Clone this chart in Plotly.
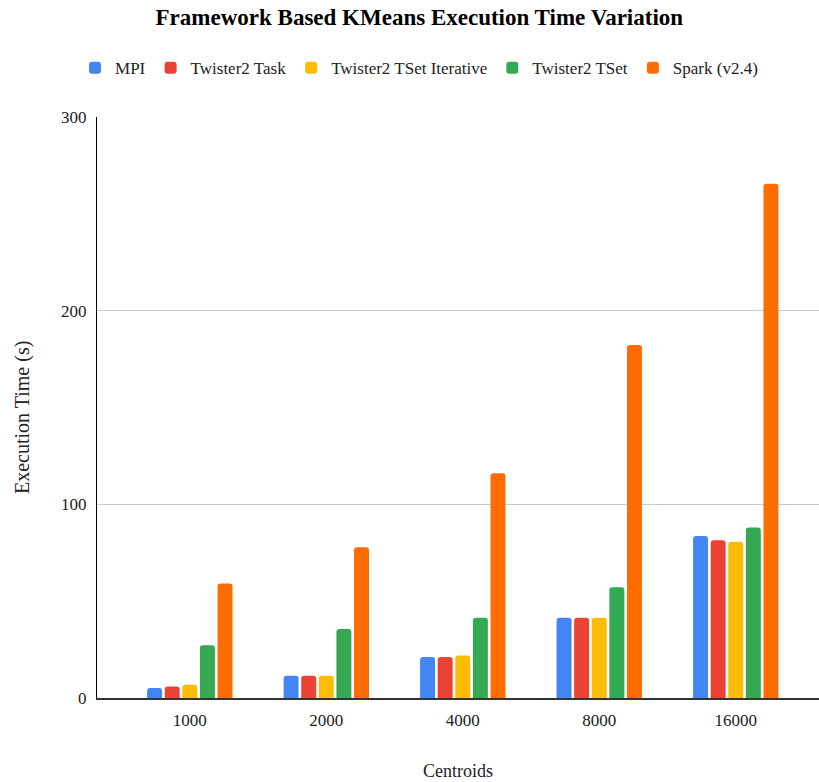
import plotly.graph_objects as go

categories = ["1000", "2000", "4000", "8000", "16000"]
series_names = ["MPI", "Twister2 Task", "Twister2 TSet Iterative", "Twister2 TSet", "Spark (v2.4)"]
mpi = [5.2, 11.5, 21.2, 41.4, 83.6]
twister2_task = [6.0, 11.5, 21.2, 41.4, 81.5]
twister2_tset_iterative = [6.9, 11.5, 21.9, 41.4, 80.7]
twister2_tset = [27.2, 35.6, 41.4, 57.2, 88.1]
spark = [59.1, 77.8, 116.1, 182.3, 265.5]
colors = ["#4285F4", "#EA4335", "#FBBC04", "#34A853", "#FF6D01"]
y_ticks = [0, 100, 200, 300]

FONT = "Liberation Serif, Times New Roman, serif"

fig = go.Figure()
for name, vals, col in zip(series_names,
                           [mpi, twister2_task, twister2_tset_iterative, twister2_tset, spark],
                           colors):
    fig.add_trace(go.Bar(x=categories, y=vals, name=name, marker_color=col,
                         marker_line_width=0))

fig.update_layout(
    width=819, height=782,
    margin=dict(l=97, r=0, t=117, b=84),
    paper_bgcolor="white", plot_bgcolor="white",
    font=dict(family=FONT, size=17, color="#222222"),
    barmode="group", bargap=0.355, bargroupgap=0.15, barcornerradius=3,
    title=dict(text="<b>Framework Based KMeans Execution Time Variation</b>",
               x=0.512, xanchor="center", xref="container",
               y=1 - 17 / 782, yanchor="middle", yref="container",
               font=dict(family=FONT, size=23, color="#000000")),
    legend=dict(orientation="h", x=0.446, xanchor="center", y=1.084, yanchor="middle",
                font=dict(family=FONT, size=17, color="#222222"),
                itemsizing="constant", traceorder="normal"),
    showlegend=True,
)
fig.update_xaxes(type="category", range=[-0.68, 4.61], showgrid=False,
                 showline=True, linecolor="#333333", linewidth=2,
                 ticks="", tickfont=dict(size=17, color="#222222"),
                 ticklabelstandoff=6)
fig.update_yaxes(range=[0, 300], tickvals=y_ticks, showgrid=True, gridcolor="#cccccc",
                 gridwidth=1, showline=True, linecolor="#000000", linewidth=1,
                 zeroline=False, ticks="", tickfont=dict(size=17, color="#222222"),
                 ticklabelstandoff=6)

fig.add_annotation(text="Execution Time (s)", textangle=-90, xref="paper", yref="paper",
                   x=(22 - 97) / 722, y=(698 - 418) / 581, xanchor="center", yanchor="middle",
                   showarrow=False, font=dict(family=FONT, size=20, color="#222222"))
fig.add_annotation(text="Centroids", xref="paper", yref="paper",
                   x=0.5, y=(698 - 771) / 581, xanchor="center", yanchor="middle",
                   showarrow=False, font=dict(family=FONT, size=18, color="#222222"))

fig.write_html("out.html",
               config={"displayModeBar": False},
               post_script="document.body.style.margin='0';document.body.style.padding='0';"
                           "Plotly.Plots.resize(document.getElementById('{plot_id}'));")
